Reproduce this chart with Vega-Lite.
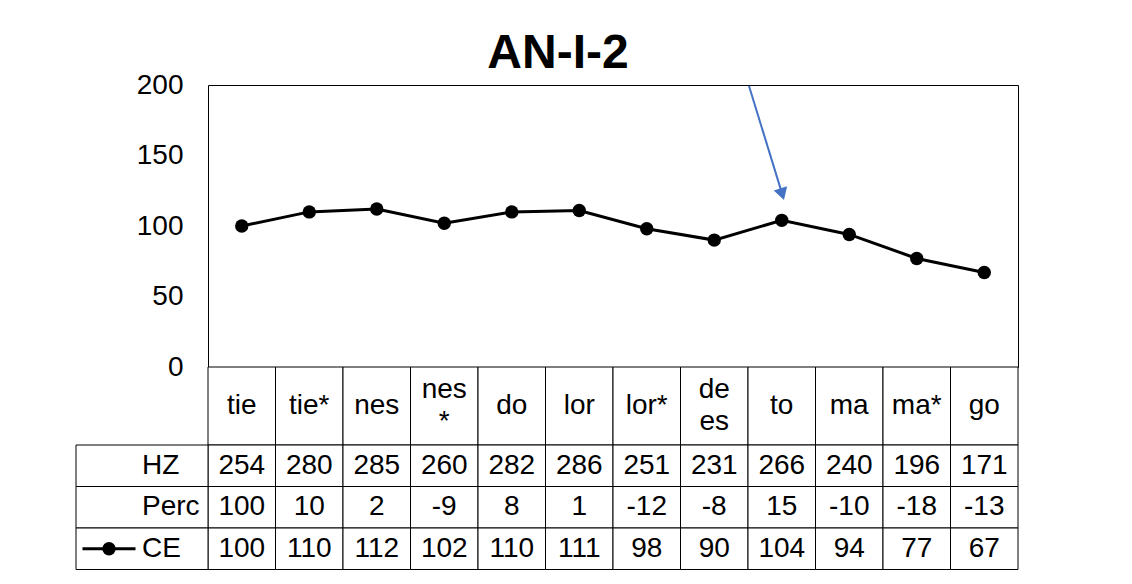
{
  "$schema": "https://vega.github.io/schema/vega-lite/v6.json",
  "width": 810,
  "height": 282,
  "padding": {"left": 75, "top": 30, "right": 10, "bottom": 5},
  "background": "white",
  "title": {"text": "AN-I-2", "fontSize": 48, "fontWeight": "bold", "font": "Liberation Sans", "color": "#000000", "anchor": "middle", "dx": -55, "offset": -7},
  "datasets": {
    "chart": [
      {"cat": "tie", "HZ": 254, "Perc": 100, "CE": 100},
      {"cat": "tie*", "HZ": 280, "Perc": 10, "CE": 110},
      {"cat": "nes", "HZ": 285, "Perc": 2, "CE": 112},
      {"cat": "nes\n*", "HZ": 260, "Perc": -9, "CE": 102},
      {"cat": "do", "HZ": 282, "Perc": 8, "CE": 110},
      {"cat": "lor", "HZ": 286, "Perc": 1, "CE": 111},
      {"cat": "lor*", "HZ": 251, "Perc": -12, "CE": 98},
      {"cat": "de\nes", "HZ": 231, "Perc": -8, "CE": 90},
      {"cat": "to", "HZ": 266, "Perc": 15, "CE": 104},
      {"cat": "ma", "HZ": 240, "Perc": -10, "CE": 94},
      {"cat": "ma*", "HZ": 196, "Perc": -18, "CE": 77},
      {"cat": "go", "HZ": 171, "Perc": -13, "CE": 67}
    ],
    "rows": [{"row": "HZ"}, {"row": "Perc"}, {"row": "CE"}],
    "arrow": [{"x": 8.015, "y": 199.3, "x2": 8.507, "y2": 122.6}]
  },
  "config": {
    "view": {"stroke": "#000000", "strokeWidth": 1},
    "font": "Liberation Sans"
  },
  "resolve": {"scale": {"x": "independent", "y": "independent"}},
  "layer": [
    {
      "data": {"name": "chart"},
      "mark": {"type": "rect", "fill": "white", "stroke": "#000000", "strokeWidth": 1},
      "encoding": {
        "x": {"field": "cat", "type": "nominal", "sort": null, "scale": {"type": "band", "domain": ["tie", "tie*", "nes", "nes\n*", "do", "lor", "lor*", "de\nes", "to", "ma", "ma*", "go"], "padding": 0}, "axis": null},
        "y": {"datum": "lab", "type": "nominal", "scale": {"type": "band", "domain": ["lab"], "range": [282, 360], "padding": 0}, "axis": null}
      }
    },
    {
      "data": {"name": "chart"},
      "transform": [{"filter": "indexof(datum.cat, '\\n') < 0"}],
      "mark": {"type": "text", "fontSize": 28, "font": "Liberation Sans", "color": "#000000", "baseline": "middle", "align": "center"},
      "encoding": {
        "x": {"field": "cat", "type": "nominal", "sort": null, "bandPosition": 0.5, "scale": {"type": "band", "domain": ["tie", "tie*", "nes", "nes\n*", "do", "lor", "lor*", "de\nes", "to", "ma", "ma*", "go"], "padding": 0}, "axis": null},
        "y": {"datum": "lab", "type": "nominal", "bandPosition": 0.5, "scale": {"type": "band", "domain": ["lab"], "range": [282, 360], "padding": 0}, "axis": null},
        "text": {"field": "cat"}
      }
    },
    {
      "data": {"name": "chart"},
      "transform": [{"filter": "indexof(datum.cat, '\\n') >= 0"}],
      "mark": {"type": "text", "fontSize": 28, "font": "Liberation Sans", "color": "#000000", "lineBreak": "\n", "lineHeight": 32, "baseline": "middle", "align": "center", "dy": -16},
      "encoding": {
        "x": {"field": "cat", "type": "nominal", "sort": null, "bandPosition": 0.5, "scale": {"type": "band", "domain": ["tie", "tie*", "nes", "nes\n*", "do", "lor", "lor*", "de\nes", "to", "ma", "ma*", "go"], "padding": 0}, "axis": null},
        "y": {"datum": "lab", "type": "nominal", "bandPosition": 0.5, "scale": {"type": "band", "domain": ["lab"], "range": [282, 360], "padding": 0}, "axis": null},
        "text": {"field": "cat"}
      }
    },
    {
      "data": {"name": "chart"},
      "transform": [{"fold": ["HZ", "Perc", "CE"], "as": ["row", "val"]}],
      "mark": {"type": "rect", "fill": "white", "stroke": "#000000", "strokeWidth": 1},
      "encoding": {
        "x": {"field": "cat", "type": "nominal", "sort": null, "scale": {"type": "band", "domain": ["tie", "tie*", "nes", "nes\n*", "do", "lor", "lor*", "de\nes", "to", "ma", "ma*", "go"], "padding": 0}, "axis": null},
        "y": {"field": "row", "type": "nominal", "sort": null, "scale": {"type": "band", "domain": ["HZ", "Perc", "CE"], "range": [360, 484.5], "padding": 0}, "axis": null}
      }
    },
    {
      "data": {"name": "chart"},
      "transform": [{"fold": ["HZ", "Perc", "CE"], "as": ["row", "val"]}],
      "mark": {"type": "text", "fontSize": 28, "font": "Liberation Sans", "color": "#000000", "baseline": "middle", "align": "center"},
      "encoding": {
        "x": {"field": "cat", "type": "nominal", "sort": null, "bandPosition": 0.5, "scale": {"type": "band", "domain": ["tie", "tie*", "nes", "nes\n*", "do", "lor", "lor*", "de\nes", "to", "ma", "ma*", "go"], "padding": 0}, "axis": null},
        "y": {"field": "row", "type": "nominal", "sort": null, "bandPosition": 0.5, "scale": {"type": "band", "domain": ["HZ", "Perc", "CE"], "range": [360, 484.5], "padding": 0}, "axis": null},
        "text": {"field": "val", "type": "nominal"}
      }
    },
    {
      "data": {"name": "rows"},
      "mark": {"type": "rect", "fill": "white", "stroke": "#000000", "strokeWidth": 1},
      "encoding": {
        "x": {"datum": "hdr", "type": "nominal", "scale": {"type": "band", "domain": ["hdr"], "range": [-132, 0], "padding": 0}, "axis": null},
        "y": {"field": "row", "type": "nominal", "sort": null, "scale": {"type": "band", "domain": ["HZ", "Perc", "CE"], "range": [360, 484.5], "padding": 0}, "axis": null}
      }
    },
    {
      "data": {"name": "rows"},
      "mark": {"type": "text", "fontSize": 28, "font": "Liberation Sans", "color": "#000000", "baseline": "middle", "align": "left"},
      "encoding": {
        "x": {"datum": "label", "type": "nominal", "bandPosition": 0, "scale": {"type": "band", "domain": ["key", "label"], "range": [-132, 0], "padding": 0}, "axis": null},
        "y": {"field": "row", "type": "nominal", "sort": null, "bandPosition": 0.5, "scale": {"type": "band", "domain": ["HZ", "Perc", "CE"], "range": [360, 484.5], "padding": 0}, "axis": null},
        "text": {"field": "row"}
      }
    },
    {
      "data": {"name": "rows"},
      "transform": [{"filter": "datum.row === 'CE'"}],
      "mark": {"type": "tick", "orient": "horizontal", "size": 53, "thickness": 3, "color": "#000000", "opacity": 1},
      "encoding": {
        "x": {"datum": "key", "type": "nominal", "bandPosition": 0.5, "scale": {"type": "band", "domain": ["key", "label"], "range": [-132, 0], "padding": 0}, "axis": null},
        "y": {"field": "row", "type": "nominal", "sort": null, "bandPosition": 0.5, "scale": {"type": "band", "domain": ["HZ", "Perc", "CE"], "range": [360, 484.5], "padding": 0}, "axis": null}
      }
    },
    {
      "data": {"name": "rows"},
      "transform": [{"filter": "datum.row === 'CE'"}],
      "mark": {"type": "point", "shape": "circle", "filled": true, "size": 180, "color": "#000000", "opacity": 1},
      "encoding": {
        "x": {"datum": "key", "type": "nominal", "bandPosition": 0.5, "scale": {"type": "band", "domain": ["key", "label"], "range": [-132, 0], "padding": 0}, "axis": null},
        "y": {"field": "row", "type": "nominal", "sort": null, "bandPosition": 0.5, "scale": {"type": "band", "domain": ["HZ", "Perc", "CE"], "range": [360, 484.5], "padding": 0}, "axis": null}
      }
    },
    {
      "data": {"name": "chart"},
      "mark": {"type": "line", "color": "#000000", "strokeWidth": 3},
      "encoding": {
        "x": {"field": "cat", "type": "nominal", "sort": null, "bandPosition": 0.5, "scale": {"type": "band", "domain": ["tie", "tie*", "nes", "nes\n*", "do", "lor", "lor*", "de\nes", "to", "ma", "ma*", "go"], "padding": 0}, "axis": null},
        "y": {"field": "CE", "type": "quantitative", "scale": {"domain": [0, 200], "nice": false, "zero": true}, "axis": {"values": [0, 50, 100, 150, 200], "ticks": false, "domain": false, "grid": false, "labelFontSize": 28, "labelFont": "Liberation Sans", "labelColor": "#000000", "labelPadding": 25, "title": null}}
      }
    },
    {
      "data": {"name": "chart"},
      "mark": {"type": "point", "shape": "circle", "filled": true, "size": 180, "color": "#000000", "opacity": 1},
      "encoding": {
        "x": {"field": "cat", "type": "nominal", "sort": null, "bandPosition": 0.5, "scale": {"type": "band", "domain": ["tie", "tie*", "nes", "nes\n*", "do", "lor", "lor*", "de\nes", "to", "ma", "ma*", "go"], "padding": 0}, "axis": null},
        "y": {"field": "CE", "type": "quantitative", "scale": {"domain": [0, 200], "nice": false}, "axis": null}
      }
    },
    {
      "data": {"name": "arrow"},
      "mark": {"type": "rule", "color": "#4472C4", "strokeWidth": 2},
      "encoding": {
        "x": {"field": "x", "type": "quantitative", "scale": {"domain": [0, 12], "nice": false, "zero": false}, "axis": null},
        "y": {"field": "y", "type": "quantitative", "scale": {"domain": [0, 200], "nice": false}, "axis": null},
        "x2": {"field": "x2"},
        "y2": {"field": "y2"}
      }
    },
    {
      "data": {"name": "arrow"},
      "mark": {"type": "point", "shape": "triangle-down", "filled": true, "size": 196, "angle": -17, "color": "#4472C4", "opacity": 1},
      "encoding": {
        "x": {"field": "x2", "type": "quantitative", "scale": {"domain": [0, 12], "nice": false, "zero": false}, "axis": null},
        "y": {"field": "y2", "type": "quantitative", "scale": {"domain": [0, 200], "nice": false}, "axis": null}
      }
    }
  ]
}
